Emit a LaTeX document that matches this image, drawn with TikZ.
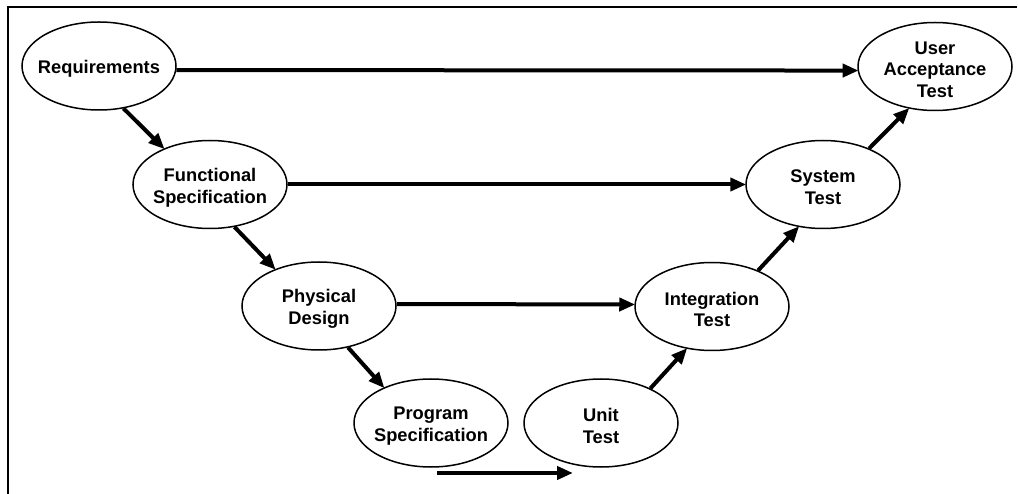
\documentclass[tikz,border=0pt]{standalone}
\usepackage{fontspec}
\setmainfont{Liberation Sans}
\usetikzlibrary{shapes.geometric,arrows.meta}
\tikzset{
  stage/.style={ellipse, draw, line width=1.5pt, minimum width=154pt, minimum height=88pt, inner sep=0pt},
  stagetext/.style={align=center, inner sep=0pt, yshift=-3pt, font=\fontsize{18.3pt}{21.7pt}\selectfont\bfseries},
  flow/.style={line width=4pt, -{Triangle[length=16pt,width=13pt]}, shorten >=-1pt},
  frameline/.style={line width=2pt}
}
\begin{document}
\begin{tikzpicture}[x=1pt,y=-1pt]
\useasboundingbox (0,0) rectangle (1018,494);
\draw[frameline] (8,494) -- (8,7.5) -- (1017,7.5);
\node[stage, label={[stagetext, name=req-t]center:Requirements}] (req) at (99,66) {};
\node[stage, label={[stagetext, name=fs-t]center:Functional\\Specification}] (fs) at (210,184.5) {};
\node[stage, label={[stagetext, name=pd-t]center:Physical\\Design}] (pd) at (319,306) {};
\node[stage, label={[stagetext, name=ps-t]center:Program\\Specification}] (ps) at (431,423) {};
\node[stage, label={[stagetext, name=ut-t]center:Unit\\Test}] (ut) at (601,423) {};
\node[stage, label={[stagetext, name=it-t]center:Integration\\Test}] (it) at (712,306.5) {};
\node[stage, label={[stagetext, name=st-t]center:System\\Test}] (st) at (823,184.5) {};
\node[stage, label={[stagetext, name=uat-t]center:User\\Acceptance\\Test}] (uat) at (935,66.5) {};
\coordinate (pu1) at (437,473);
\coordinate (pu2) at (572,473);
\draw[flow] (req.-3) -- (uat.183);
\draw[flow] (fs.east) -- (st.west);
\draw[flow] ([yshift=2pt]pd.east) -- ([yshift=2pt]it.west);
\draw[flow] (req.-60) -- (fs.142);
\draw[flow] (fs.-60) -- (pd.140);
\draw[flow] (pd.-55) -- (ps.143);
\draw[flow] (pu1) -- (pu2);
\draw[flow] (ut.35) -- (it.-121);
\draw[flow] (it.38) -- (st.-120);
\draw[flow] (st.38) -- (uat.-122);
\end{tikzpicture}
\end{document}
